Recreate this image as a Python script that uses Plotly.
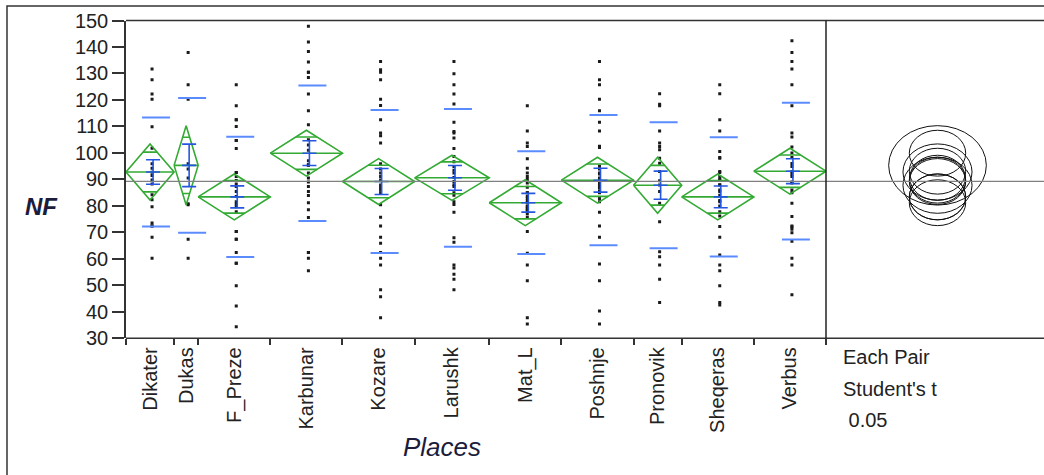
import numpy as np
import plotly.graph_objects as go

# ---------------- data ----------------
places = ["Dikater", "Dukas", "F_Preze", "Karbunar", "Kozare", "Larushk",
          "Mat_L", "Poshnje", "Pronovik", "Sheqeras", "Verbus"]

nf_dikater = [131.7, 127.6, 122.2, 120.3, 109.9, 101.8, 95.9, 94.2, 92.7, 91.5,
              89.8, 88.3, 84.2, 82.3, 79.7, 73.5, 72.4, 72.4, 68.2, 60.2]
nf_dukas = [137.9, 125.7, 120.3, 95.9, 93.9, 90.5, 80.4, 80.8, 67.4, 60.2]
nf_f_preze = [125.7, 117.8, 112.5, 112.5, 110.0, 104.7, 104.7, 101.7, 92.6, 92.6,
              91.1, 89.6, 88.3, 87.3, 85.4, 83.5, 81.6, 80.6, 79.7, 77.8,
              70.3, 70.3, 67.4, 67.4, 62.4, 58.3, 58.3, 49.8, 42.2, 34.4]
nf_karbunar = [147.8, 141.9, 138.3, 134.3, 130.5, 130.5, 128.5, 122.2, 115.9, 110.6,
               105.0, 103.0, 101.0, 97.0, 95.5, 95.4, 95.3, 92.4, 90.5, 89.0,
               87.3, 85.4, 83.9, 81.2, 78.5, 75.6, 62.4, 62.4, 60.2, 55.5]
nf_kozare = [134.5, 131.4, 130.5, 127.6, 120.3, 117.9, 112.5, 107.5, 106.5, 103.7,
             95.9, 93.9, 92.4, 91.1, 89.8, 87.9, 86.9, 86.0, 85.0, 80.4,
             75.7, 72.4, 68.2, 65.9, 62.4, 60.2, 57.7, 48.3, 45.7, 37.8]
nf_larushk = [134.5, 129.9, 125.7, 122.2, 118.5, 111.6, 108.1, 107.5, 105.6, 101.7,
              98.6, 96.7, 94.9, 93.5, 92.4, 90.7, 89.2, 88.0, 87.3, 85.0,
              84.0, 81.6, 80.5, 77.6, 68.0, 66.3, 57.7, 56.5, 54.2, 52.3, 48.3]
nf_mat_l = [117.8, 108.3, 103.7, 102.4, 97.8, 94.2, 92.4, 91.1, 90.0, 88.6,
            87.0, 85.0, 85.0, 83.5, 82.9, 82.0, 81.2, 80.0, 79.7, 79.0,
            78.5, 78.2, 77.0, 75.7, 70.3, 62.1, 57.7, 51.7, 37.8, 35.4]
nf_poshnje = [134.5, 127.6, 125.7, 120.3, 115.9, 111.6, 108.3, 102.5, 102.0, 95.0,
              93.9, 92.4, 92.0, 90.5, 90.0, 88.6, 88.0, 87.0, 86.7, 85.4,
              85.0, 82.8, 81.6, 77.6, 72.4, 68.2, 58.1, 51.7, 40.3, 35.4]
nf_pronovik = [122.3, 118.4, 117.8, 108.3, 103.7, 102.4, 101.2, 98.0, 96.1, 93.0,
               89.5, 87.9, 85.4, 81.0, 74.0, 62.7, 60.8, 57.7, 52.3, 43.5]
nf_sheqeras = [125.7, 122.3, 112.5, 108.3, 100.5, 98.3, 98.0, 93.0, 92.6, 91.1,
               90.0, 89.8, 88.0, 87.9, 86.0, 85.4, 84.0, 82.0, 81.6, 80.0,
               77.8, 76.2, 72.2, 68.2, 61.5, 57.7, 55.5, 49.8, 43.5, 42.6]
nf_verbus = [142.4, 137.9, 134.5, 131.7, 125.7, 117.8, 107.5, 106.0, 102.2, 100.0,
             98.3, 96.0, 94.9, 93.0, 92.0, 91.1, 89.0, 88.6, 86.0, 85.0,
             81.0, 76.0, 72.4, 72.0, 71.2, 69.9, 66.6, 60.2, 57.7, 46.4]

# group means and standard deviations as shown in the chart
group_means = [92.8, 95.3, 83.4, 99.9, 89.2, 90.6, 81.2, 89.7, 87.8, 83.4, 93.1]
group_sds = [20.6, 25.4, 22.7, 25.6, 27.0, 26.0, 19.4, 24.6, 23.8, 22.5, 25.8]

y_ticks = [30, 40, 50, 60, 70, 80, 90, 100, 110, 120, 130, 140, 150]
t_crit = 1.9685          # Student's t, alpha 0.05
side_text = ["Each Pair", "Student's t", " 0.05"]

# ---------------- layout geometry (pixels) ----------------
W, H = 1044, 475
PX_L, PX_DIV, PX_R = 126, 826, 1044
PY_TOP, PY_BOT = 20.5, 338.3
CIRCLE_CX = 937.5
ASPECT = 1.23

samples = [nf_dikater, nf_dukas, nf_f_preze, nf_karbunar, nf_kozare, nf_larushk,
           nf_mat_l, nf_poshnje, nf_pronovik, nf_sheqeras, nf_verbus]
n = np.array([len(s) for s in samples], dtype=float)
k = len(samples)
edges = np.concatenate([[0.0], np.cumsum(n)])
N = edges[-1]
centers = (edges[:-1] + edges[1:]) / 2
upx = N / (PX_DIV - PX_L)          # x-units per pixel

means = np.array(group_means)
sds = np.array(group_sds)
sp = np.sqrt(((n - 1) * sds ** 2).sum() / (N - k))
ci = t_crit * sp / np.sqrt(n)
se = sds / np.sqrt(n)
grand = (n * means).sum() / N

fx = lambda px: px / W
fy = lambda py: (H - py) / H

GREEN = "#33aa33"
BLUE_L = "#5b8cff"
BLUE_D = "#2456e0"
INK = "#222222"
FONT = "Liberation Sans"

fig = go.Figure()

# points
px_, py_ = [], []
for c, s in zip(centers, samples):
    px_ += [c + 2 * upx] * len(s)
    py_ += list(s)
fig.add_trace(go.Scatter(x=px_, y=py_, mode="markers", xaxis="x", yaxis="y",
                         marker=dict(symbol="square", size=3, color="#1a1a1a",
                                     line=dict(width=0)),
                         hoverinfo="y", showlegend=False))

# means diamonds
dx, dy = [], []
f = 1 - 1 / np.sqrt(2)
for i in range(k):
    L, R, c, m, h = edges[i], edges[i + 1], centers[i], means[i], ci[i]
    dx += [L, c, R, c, L, None, L, R, None]
    dy += [m, m + h, m, m - h, m, None, m, m, None]
    hw = (R - L) / 2 * f
    for s in (1, -1):
        dx += [c - hw, c + hw, None]
        dy += [m + s * h / np.sqrt(2)] * 2 + [None]
fig.add_trace(go.Scatter(x=dx, y=dy, mode="lines", xaxis="x", yaxis="y",
                         line=dict(color=GREEN, width=1.6), hoverinfo="skip",
                         showlegend=False))

# std dev lines
sx, sy = [], []
for i in range(k):
    c, m, s = centers[i], means[i], sds[i]
    for v in (m + s, m - s):
        sx += [c - 8 * upx, c + 20 * upx, None]
        sy += [v, v, None]
fig.add_trace(go.Scatter(x=sx, y=sy, mode="lines", xaxis="x", yaxis="y",
                         line=dict(color=BLUE_L, width=2), hoverinfo="skip",
                         showlegend=False))

# mean error bars
ex, ey = [], []
for i in range(k):
    c, m, e = centers[i] + 3 * upx, means[i], se[i]
    ex += [c, c, None]
    ey += [m - e, m + e, None]
    for v in (m - e, m, m + e):
        ex += [c - 7 * upx, c + 7 * upx, None]
        ey += [v, v, None]
fig.add_trace(go.Scatter(x=ex, y=ey, mode="lines", xaxis="x", yaxis="y",
                         line=dict(color=BLUE_D, width=1.6), hoverinfo="skip",
                         showlegend=False))

# comparison circles (right panel)
px_per_y = (PY_BOT - PY_TOP) / (y_ticks[-1] - y_ticks[0])
x2_unit_px = px_per_y * ASPECT
x2_range = [0, (PX_R - PX_DIV) / x2_unit_px]
cx2 = (CIRCLE_CX - PX_DIV) / x2_unit_px
shapes = []
for i in range(k):
    shapes.append(dict(type="circle", xref="x2", yref="y",
                       x0=cx2 - ci[i], x1=cx2 + ci[i],
                       y0=means[i] - ci[i], y1=means[i] + ci[i],
                       line=dict(color="#111111", width=1)))
fig.add_trace(go.Scatter(x=[cx2], y=[grand], mode="markers", xaxis="x2", yaxis="y",
                         marker=dict(size=1, color="rgba(0,0,0,0)"),
                         hoverinfo="skip", showlegend=False))

# grand mean line
shapes.append(dict(type="line", xref="paper", yref="y", x0=fx(PX_L), x1=1.0,
                   y0=grand, y1=grand, line=dict(color="#808080", width=1.2)))
# frames
shapes.append(dict(type="line", xref="paper", yref="paper", x0=fx(PX_L), x1=1.01,
                   y0=fy(PY_TOP), y1=fy(PY_TOP), line=dict(color="#333333", width=1.5)))
shapes.append(dict(type="line", xref="paper", yref="paper", x0=fx(PX_L), x1=1.01,
                   y0=fy(PY_BOT), y1=fy(PY_BOT), line=dict(color="#333333", width=1.5)))
shapes.append(dict(type="line", xref="paper", yref="paper", x0=fx(PX_DIV), x1=fx(PX_DIV),
                   y0=fy(PY_BOT), y1=fy(PY_TOP), line=dict(color="#222222", width=1.5)))
shapes.append(dict(type="rect", xref="paper", yref="paper", x0=fx(7), x1=1.05,
                   y0=-0.05, y1=fy(6), line=dict(color="#333333", width=1.5)))

annotations = [
    dict(text="<b><i>NF</i></b>", x=fx(41), y=fy(206), xref="paper", yref="paper",
         xanchor="center", yanchor="middle", showarrow=False,
         font=dict(family=FONT, size=24, color="#1c1c3c")),
    dict(text="<i>Places</i>", x=fx(442), y=fy(447), xref="paper", yref="paper",
         xanchor="center", yanchor="middle", showarrow=False,
         font=dict(family=FONT, size=26, color="#1c1c3c")),
]
for j, t in enumerate(side_text):
    annotations.append(dict(text=t, x=fx(841), y=fy(357 + 31.5 * j), xref="paper",
                            yref="paper", xanchor="left", yanchor="middle",
                            showarrow=False,
                            font=dict(family=FONT, size=20, color=INK)))

dom_x = [fx(PX_L), fx(PX_DIV)]
fig.update_layout(
    template="none",
    width=W, height=H, autosize=False,
    margin=dict(l=0, r=0, t=0, b=0, pad=0),
    paper_bgcolor="white", plot_bgcolor="rgba(0,0,0,0)",
    showlegend=False,
    font=dict(family=FONT, color=INK),
    xaxis=dict(domain=dom_x, range=[0, N], tickmode="array", tickvals=list(centers),
               ticktext=places, tickangle=-90, ticks="", showgrid=False, zeroline=False,
               showline=False, ticklabelstandoff=4, automargin=False,
               tickfont=dict(family=FONT, size=20, color=INK), anchor="y"),
    xaxis3=dict(domain=dom_x, range=[0, N], overlaying="x", tickmode="array",
                tickvals=list(edges), ticks="outside", ticklen=6, tickwidth=1.5,
                tickcolor="#333333", showticklabels=False, showgrid=False,
                zeroline=False, showline=False, anchor="y", side="bottom",
                automargin=False),
    xaxis2=dict(domain=[fx(PX_DIV), 1.0], range=x2_range, showgrid=False,
                zeroline=False, showline=False, showticklabels=False, ticks="",
                anchor="y", automargin=False),
    yaxis=dict(domain=[fy(PY_BOT), fy(PY_TOP)], range=[y_ticks[0], y_ticks[-1]],
               tickmode="array", tickvals=y_ticks, ticks="outside", ticklen=12,
               tickwidth=1.5, tickcolor="#333333", showline=True, linecolor="#333333",
               linewidth=1.5, showgrid=False, zeroline=False, automargin=False,
               tickfont=dict(family=FONT, size=20, color=INK)),
    shapes=shapes,
    annotations=annotations,
)
fig.add_trace(go.Scatter(x=[0], y=[grand], mode="markers", xaxis="x3", yaxis="y",
                         marker=dict(size=1, color="rgba(0,0,0,0)"),
                         hoverinfo="skip", showlegend=False))

fig.write_html(
    "out.html",
    config={"displayModeBar": False},
    post_script=("document.documentElement.style.margin='0';"
                 "document.body.style.margin='0';document.body.style.padding='0';"
                 "document.body.style.overflow='hidden';"),
)
